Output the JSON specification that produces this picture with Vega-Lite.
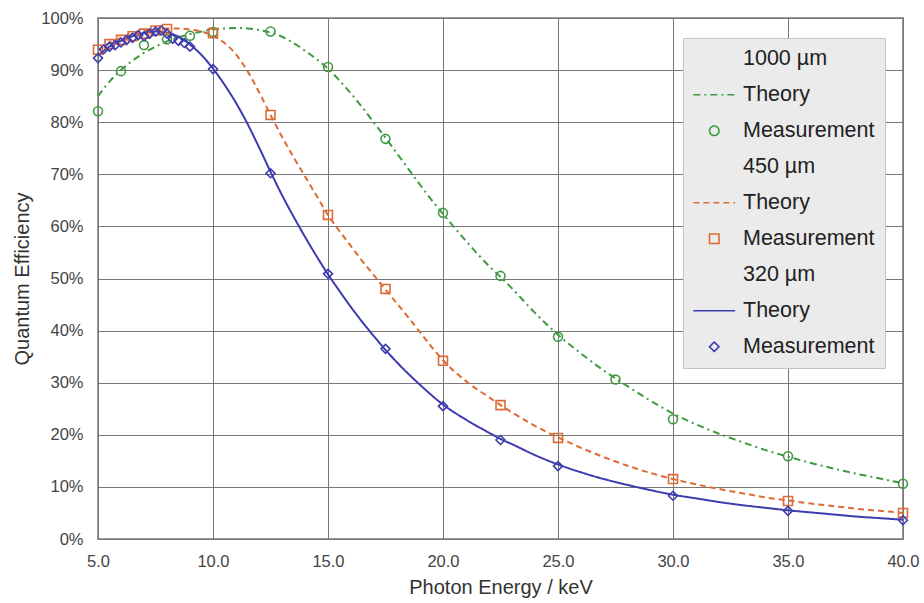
{
  "$schema": "https://vega.github.io/schema/vega-lite/v6.json",
  "width": 805,
  "height": 521,
  "autosize": "none",
  "padding": {"left": 98, "top": 18, "right": 21, "bottom": 64},
  "background": "white",
  "config": {
    "font": "Liberation Sans",
    "view": {"stroke": "#9a9a9a", "strokeWidth": 2},
    "axis": {
      "gridColor": "#777777", "gridWidth": 1, "gridOpacity": 1,
      "domain": false, "ticks": false, "labelFlush": false,
      "labelFont": "Liberation Sans", "labelFontSize": 16.5, "labelColor": "#444",
      "titleFont": "Liberation Sans", "titleFontSize": 20, "titleFontWeight": "normal", "titleColor": "#333"
    },
    "legend": {
      "orient": "none",
      "legendX": 585,
      "legendY": 20,
      "direction": "vertical",
      "fillColor": "#ebebeb",
      "strokeColor": "#c4c4c4",
      "padding": 10,
      "labelFont": "Liberation Sans",
      "labelFontSize": 21.5,
      "labelColor": "#222",
      "symbolSize": 90,
      "symbolStrokeWidth": 1.6,
      "symbolFillColor": "transparent",
      "symbolOffset": 10.5,
      "labelOffset": 18,
      "rowPadding": 13
    }
  },
  "datasets": {
    "theory": [
      {"E": 5.0, "QE": 85.0, "key": "t1000"}, {"E": 5.5, "QE": 87.8, "key": "t1000"}, {"E": 6.0, "QE": 90.0, "key": "t1000"}, {"E": 6.5, "QE": 91.8, "key": "t1000"}, {"E": 7.0, "QE": 93.3, "key": "t1000"}, {"E": 7.5, "QE": 94.5, "key": "t1000"}, {"E": 8.0, "QE": 95.5, "key": "t1000"}, {"E": 8.5, "QE": 96.3, "key": "t1000"}, {"E": 9.0, "QE": 96.9, "key": "t1000"}, {"E": 9.5, "QE": 97.4, "key": "t1000"}, {"E": 10.0, "QE": 97.8, "key": "t1000"}, {"E": 10.5, "QE": 98.0, "key": "t1000"}, {"E": 11.0, "QE": 98.1, "key": "t1000"}, {"E": 11.5, "QE": 98.0, "key": "t1000"}, {"E": 12.0, "QE": 97.7, "key": "t1000"}, {"E": 12.5, "QE": 97.2, "key": "t1000"}, {"E": 13.0, "QE": 96.4, "key": "t1000"}, {"E": 13.5, "QE": 95.2, "key": "t1000"}, {"E": 14.0, "QE": 93.7, "key": "t1000"}, {"E": 14.5, "QE": 92.1, "key": "t1000"}, {"E": 15.0, "QE": 90.3, "key": "t1000"}, {"E": 15.5, "QE": 88.0, "key": "t1000"}, {"E": 16.0, "QE": 85.5, "key": "t1000"}, {"E": 16.5, "QE": 82.8, "key": "t1000"}, {"E": 17.0, "QE": 79.9, "key": "t1000"}, {"E": 17.5, "QE": 77.0, "key": "t1000"}, {"E": 18.0, "QE": 74.0, "key": "t1000"}, {"E": 18.5, "QE": 71.0, "key": "t1000"}, {"E": 19.0, "QE": 68.0, "key": "t1000"}, {"E": 19.5, "QE": 65.1, "key": "t1000"}, {"E": 20.0, "QE": 62.4, "key": "t1000"}, {"E": 21.0, "QE": 57.2, "key": "t1000"}, {"E": 22.0, "QE": 52.4, "key": "t1000"}, {"E": 22.5, "QE": 50.3, "key": "t1000"}, {"E": 23.0, "QE": 48.1, "key": "t1000"}, {"E": 24.0, "QE": 43.4, "key": "t1000"}, {"E": 25.0, "QE": 39.2, "key": "t1000"}, {"E": 26.0, "QE": 35.6, "key": "t1000"}, {"E": 27.0, "QE": 32.3, "key": "t1000"}, {"E": 28.0, "QE": 29.4, "key": "t1000"}, {"E": 29.0, "QE": 26.6, "key": "t1000"}, {"E": 30.0, "QE": 24.1, "key": "t1000"}, {"E": 31.0, "QE": 22.0, "key": "t1000"}, {"E": 32.0, "QE": 20.2, "key": "t1000"}, {"E": 33.0, "QE": 18.6, "key": "t1000"}, {"E": 34.0, "QE": 17.1, "key": "t1000"}, {"E": 35.0, "QE": 15.8, "key": "t1000"}, {"E": 36.0, "QE": 14.6, "key": "t1000"}, {"E": 37.0, "QE": 13.5, "key": "t1000"}, {"E": 38.0, "QE": 12.5, "key": "t1000"}, {"E": 39.0, "QE": 11.6, "key": "t1000"}, {"E": 40.0, "QE": 10.7, "key": "t1000"},
      {"E": 5.0, "QE": 93.8, "key": "t450"}, {"E": 5.5, "QE": 95.2, "key": "t450"}, {"E": 6.0, "QE": 96.2, "key": "t450"}, {"E": 6.5, "QE": 97.0, "key": "t450"}, {"E": 7.0, "QE": 97.5, "key": "t450"}, {"E": 7.5, "QE": 97.8, "key": "t450"}, {"E": 8.0, "QE": 98.0, "key": "t450"}, {"E": 8.5, "QE": 98.0, "key": "t450"}, {"E": 9.0, "QE": 97.8, "key": "t450"}, {"E": 9.5, "QE": 97.4, "key": "t450"}, {"E": 10.0, "QE": 96.6, "key": "t450"}, {"E": 10.5, "QE": 95.2, "key": "t450"}, {"E": 11.0, "QE": 93.0, "key": "t450"}, {"E": 11.5, "QE": 89.8, "key": "t450"}, {"E": 12.0, "QE": 85.8, "key": "t450"}, {"E": 12.5, "QE": 81.4, "key": "t450"}, {"E": 13.0, "QE": 77.2, "key": "t450"}, {"E": 13.5, "QE": 73.3, "key": "t450"}, {"E": 14.0, "QE": 69.6, "key": "t450"}, {"E": 14.5, "QE": 65.9, "key": "t450"}, {"E": 15.0, "QE": 62.2, "key": "t450"}, {"E": 15.5, "QE": 59.1, "key": "t450"}, {"E": 16.0, "QE": 56.2, "key": "t450"}, {"E": 16.5, "QE": 53.3, "key": "t450"}, {"E": 17.0, "QE": 50.6, "key": "t450"}, {"E": 17.5, "QE": 47.9, "key": "t450"}, {"E": 18.0, "QE": 45.2, "key": "t450"}, {"E": 18.5, "QE": 42.5, "key": "t450"}, {"E": 19.0, "QE": 39.7, "key": "t450"}, {"E": 19.5, "QE": 36.9, "key": "t450"}, {"E": 20.0, "QE": 34.3, "key": "t450"}, {"E": 21.0, "QE": 30.3, "key": "t450"}, {"E": 22.0, "QE": 27.2, "key": "t450"}, {"E": 22.5, "QE": 25.7, "key": "t450"}, {"E": 23.0, "QE": 24.3, "key": "t450"}, {"E": 24.0, "QE": 21.7, "key": "t450"}, {"E": 25.0, "QE": 19.5, "key": "t450"}, {"E": 26.0, "QE": 17.5, "key": "t450"}, {"E": 27.0, "QE": 15.7, "key": "t450"}, {"E": 28.0, "QE": 14.1, "key": "t450"}, {"E": 29.0, "QE": 12.7, "key": "t450"}, {"E": 30.0, "QE": 11.5, "key": "t450"}, {"E": 31.0, "QE": 10.5, "key": "t450"}, {"E": 32.0, "QE": 9.6, "key": "t450"}, {"E": 33.0, "QE": 8.8, "key": "t450"}, {"E": 34.0, "QE": 8.0, "key": "t450"}, {"E": 35.0, "QE": 7.4, "key": "t450"}, {"E": 36.0, "QE": 6.8, "key": "t450"}, {"E": 37.0, "QE": 6.3, "key": "t450"}, {"E": 38.0, "QE": 5.8, "key": "t450"}, {"E": 39.0, "QE": 5.4, "key": "t450"}, {"E": 40.0, "QE": 5.0, "key": "t450"},
      {"E": 5.0, "QE": 92.8, "key": "t320"}, {"E": 5.5, "QE": 94.5, "key": "t320"}, {"E": 6.0, "QE": 95.6, "key": "t320"}, {"E": 6.5, "QE": 96.5, "key": "t320"}, {"E": 7.0, "QE": 97.1, "key": "t320"}, {"E": 7.5, "QE": 97.4, "key": "t320"}, {"E": 8.0, "QE": 97.2, "key": "t320"}, {"E": 8.5, "QE": 96.4, "key": "t320"}, {"E": 9.0, "QE": 94.9, "key": "t320"}, {"E": 9.5, "QE": 92.9, "key": "t320"}, {"E": 10.0, "QE": 90.3, "key": "t320"}, {"E": 10.5, "QE": 87.2, "key": "t320"}, {"E": 11.0, "QE": 83.7, "key": "t320"}, {"E": 11.5, "QE": 79.7, "key": "t320"}, {"E": 12.0, "QE": 75.2, "key": "t320"}, {"E": 12.5, "QE": 70.5, "key": "t320"}, {"E": 13.0, "QE": 66.0, "key": "t320"}, {"E": 13.5, "QE": 61.9, "key": "t320"}, {"E": 14.0, "QE": 58.0, "key": "t320"}, {"E": 14.5, "QE": 54.3, "key": "t320"}, {"E": 15.0, "QE": 50.8, "key": "t320"}, {"E": 15.5, "QE": 47.6, "key": "t320"}, {"E": 16.0, "QE": 44.5, "key": "t320"}, {"E": 16.5, "QE": 41.6, "key": "t320"}, {"E": 17.0, "QE": 38.9, "key": "t320"}, {"E": 17.5, "QE": 36.3, "key": "t320"}, {"E": 18.0, "QE": 33.9, "key": "t320"}, {"E": 19.0, "QE": 29.6, "key": "t320"}, {"E": 20.0, "QE": 25.8, "key": "t320"}, {"E": 21.0, "QE": 22.9, "key": "t320"}, {"E": 22.0, "QE": 20.4, "key": "t320"}, {"E": 22.5, "QE": 19.2, "key": "t320"}, {"E": 23.0, "QE": 18.2, "key": "t320"}, {"E": 24.0, "QE": 16.1, "key": "t320"}, {"E": 25.0, "QE": 14.3, "key": "t320"}, {"E": 26.0, "QE": 12.8, "key": "t320"}, {"E": 27.0, "QE": 11.5, "key": "t320"}, {"E": 28.0, "QE": 10.4, "key": "t320"}, {"E": 29.0, "QE": 9.4, "key": "t320"}, {"E": 30.0, "QE": 8.5, "key": "t320"}, {"E": 31.0, "QE": 7.8, "key": "t320"}, {"E": 32.0, "QE": 7.1, "key": "t320"}, {"E": 33.0, "QE": 6.5, "key": "t320"}, {"E": 34.0, "QE": 6.0, "key": "t320"}, {"E": 35.0, "QE": 5.5, "key": "t320"}, {"E": 36.0, "QE": 5.1, "key": "t320"}, {"E": 37.0, "QE": 4.7, "key": "t320"}, {"E": 38.0, "QE": 4.3, "key": "t320"}, {"E": 39.0, "QE": 4.0, "key": "t320"}, {"E": 40.0, "QE": 3.7, "key": "t320"}
    ],
    "meas": [
      {"E": 5.0, "QE": 82.1, "key": "m1000"}, {"E": 6.0, "QE": 89.8, "key": "m1000"}, {"E": 7.0, "QE": 94.8, "key": "m1000"}, {"E": 8.0, "QE": 95.9, "key": "m1000"}, {"E": 9.0, "QE": 96.6, "key": "m1000"}, {"E": 10.0, "QE": 97.3, "key": "m1000"}, {"E": 12.5, "QE": 97.4, "key": "m1000"}, {"E": 15.0, "QE": 90.6, "key": "m1000"}, {"E": 17.5, "QE": 76.8, "key": "m1000"}, {"E": 20.0, "QE": 62.6, "key": "m1000"}, {"E": 22.5, "QE": 50.5, "key": "m1000"}, {"E": 25.0, "QE": 38.8, "key": "m1000"}, {"E": 27.5, "QE": 30.6, "key": "m1000"}, {"E": 30.0, "QE": 23.0, "key": "m1000"}, {"E": 35.0, "QE": 15.9, "key": "m1000"}, {"E": 40.0, "QE": 10.6, "key": "m1000"},
      {"E": 5.0, "QE": 93.9, "key": "m450"}, {"E": 5.5, "QE": 95.0, "key": "m450"}, {"E": 6.0, "QE": 95.8, "key": "m450"}, {"E": 6.5, "QE": 96.5, "key": "m450"}, {"E": 7.0, "QE": 97.0, "key": "m450"}, {"E": 7.5, "QE": 97.6, "key": "m450"}, {"E": 8.0, "QE": 97.9, "key": "m450"}, {"E": 10.0, "QE": 97.1, "key": "m450"}, {"E": 12.5, "QE": 81.4, "key": "m450"}, {"E": 15.0, "QE": 62.2, "key": "m450"}, {"E": 17.5, "QE": 48.0, "key": "m450"}, {"E": 20.0, "QE": 34.2, "key": "m450"}, {"E": 22.5, "QE": 25.7, "key": "m450"}, {"E": 25.0, "QE": 19.4, "key": "m450"}, {"E": 30.0, "QE": 11.5, "key": "m450"}, {"E": 35.0, "QE": 7.3, "key": "m450"}, {"E": 40.0, "QE": 5.0, "key": "m450"},
      {"E": 5.0, "QE": 92.3, "key": "m320"}, {"E": 5.25, "QE": 94.0, "key": "m320"}, {"E": 5.5, "QE": 94.5, "key": "m320"}, {"E": 5.75, "QE": 94.8, "key": "m320"}, {"E": 6.0, "QE": 95.3, "key": "m320"}, {"E": 6.25, "QE": 95.8, "key": "m320"}, {"E": 6.5, "QE": 96.2, "key": "m320"}, {"E": 6.75, "QE": 96.7, "key": "m320"}, {"E": 7.0, "QE": 96.5, "key": "m320"}, {"E": 7.25, "QE": 97.0, "key": "m320"}, {"E": 7.5, "QE": 97.4, "key": "m320"}, {"E": 7.75, "QE": 97.6, "key": "m320"}, {"E": 8.0, "QE": 97.0, "key": "m320"}, {"E": 8.25, "QE": 96.0, "key": "m320"}, {"E": 8.5, "QE": 95.6, "key": "m320"}, {"E": 8.75, "QE": 95.2, "key": "m320"}, {"E": 9.0, "QE": 94.5, "key": "m320"}, {"E": 10.0, "QE": 90.2, "key": "m320"}, {"E": 12.5, "QE": 70.2, "key": "m320"}, {"E": 15.0, "QE": 50.9, "key": "m320"}, {"E": 17.5, "QE": 36.5, "key": "m320"}, {"E": 20.0, "QE": 25.5, "key": "m320"}, {"E": 22.5, "QE": 19.0, "key": "m320"}, {"E": 25.0, "QE": 14.0, "key": "m320"}, {"E": 30.0, "QE": 8.3, "key": "m320"}, {"E": 35.0, "QE": 5.4, "key": "m320"}, {"E": 40.0, "QE": 3.6, "key": "m320"}
    ]
  },
  "encoding": {
    "x": {
      "field": "E", "type": "quantitative",
      "scale": {"domain": [5, 40], "nice": false, "zero": false, "padding": 0},
      "axis": {"title": "Photon Energy / keV", "values": [5, 10, 15, 20, 25, 30, 35, 40], "format": ".1f", "labelPadding": 14, "titlePadding": 8, "labelFlush": false}
    },
    "y": {
      "field": "QE", "type": "quantitative",
      "scale": {"domain": [0, 100], "nice": false, "padding": 0},
      "axis": {"title": "Quantum Efficiency", "values": [0, 10, 20, 30, 40, 50, 60, 70, 80, 90, 100], "labelExpr": "datum.value + '%'", "labelPadding": 15, "titlePadding": 8, "labelFlush": false}
    },
    "color": {
      "field": "key", "type": "nominal",
      "scale": {
        "domain": ["h1000", "t1000", "m1000", "h450", "t450", "m450", "h320", "t320", "m320"],
        "range": ["rgba(0,0,0,0)", "#3f9a3f", "#3f9a3f", "rgba(0,0,0,0)", "#df6a35", "#df6a35", "rgba(0,0,0,0)", "#3c3cb0", "#3c3cb0"]
      },
      "legend": {
        "title": null,
        "labelExpr": "datum.value == 'h1000' ? '1000 µm' : datum.value == 'h450' ? '450 µm' : datum.value == 'h320' ? '320 µm' : substring(datum.value, 0, 1) == 't' ? 'Theory' : 'Measurement'"
      }
    }
  },
  "layer": [
    {
      "data": {"name": "theory"},
      "mark": {"type": "line", "interpolate": "monotone", "strokeWidth": 2},
      "encoding": {
        "strokeDash": {
          "field": "key", "type": "nominal",
          "scale": {
            "domain": ["h1000", "t1000", "m1000", "h450", "t450", "m450", "h320", "t320", "m320"],
            "range": [[1, 0], [7, 4, 2, 4], [1, 0], [1, 0], [6, 4], [1, 0], [1, 0], [1, 0], [1, 0]]
          },
          "legend": {"title": null}
        }
      }
    },
    {
      "data": {"name": "meas"},
      "mark": {"type": "point", "filled": false, "size": 80, "strokeWidth": 1.6, "opacity": 1},
      "encoding": {
        "shape": {
          "field": "key", "type": "nominal",
          "scale": {
            "domain": ["h1000", "t1000", "m1000", "h450", "t450", "m450", "h320", "t320", "m320"],
            "range": ["circle", "M-4.4,0H4.4", "circle", "circle", "M-4.4,0H4.4", "square", "circle", "M-4.4,0H4.4", "diamond"]
          },
          "legend": {"title": null}
        }
      }
    }
  ]
}
